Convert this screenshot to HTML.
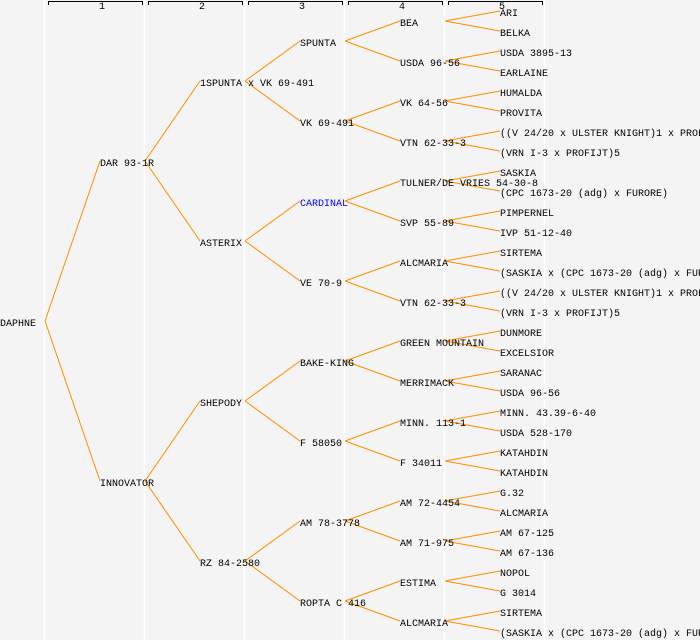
<!DOCTYPE html>
<html><head><meta charset="utf-8"><style>
html,body{margin:0;padding:0;background:#f4f4f4;}
svg{display:block;}
text{font-family:"Liberation Mono","DejaVu Sans Mono",monospace;font-size:10px;fill:#000;}
</style></head><body>
<svg width="700" height="640" viewBox="0 0 700 640" xmlns="http://www.w3.org/2000/svg">
<rect width="700" height="640" fill="#f4f4f4"/>
<g stroke="#fff" stroke-width="1.5">
<line x1="44.5" y1="0" x2="44.5" y2="640"/><line x1="144.5" y1="0" x2="144.5" y2="640"/>
<line x1="244.5" y1="0" x2="244.5" y2="640"/><line x1="344.5" y1="0" x2="344.5" y2="640"/>
<line x1="444.5" y1="0" x2="444.5" y2="640"/><line x1="544.5" y1="0" x2="544.5" y2="640"/>
</g>
<g stroke="#000" stroke-width="1" fill="none">
<path d="M48.5 5V1.5H142.5V5M148.5 5V1.5H242.5V5M248.5 5V1.5H342.5V5M348.5 5V1.5H442.5V5M448.5 5V1.5H542.5V5"/>
</g>
<g style="font-size:8px" text-anchor="middle">
<text x="102" y="9">1</text><text x="202" y="9">2</text><text x="302" y="9">3</text><text x="402" y="9">4</text><text x="502" y="9">5</text>
</g>
<path fill="none" stroke="#ff8c00" stroke-width="1" d="
M45 321L100 161M45 321L100 481
M145 161L200 81M145 161L200 241M145 481L200 401M145 481L200 561
M245 81L300 41M245 81L300 121M245 241L300 201M245 241L300 281M245 401L300 361M245 401L300 441M245 561L300 521M245 561L300 601
M345 41L400 21M345 41L400 61M345 121L400 101M345 121L400 141M345 201L400 181M345 201L400 221M345 281L400 261M345 281L400 301
M345 361L400 341M345 361L400 381M345 441L400 421M345 441L400 461M345 521L400 501M345 521L400 541M345 601L400 581M345 601L400 621
M445 21L500 11M445 21L500 31M445 61L500 51M445 61L500 71M445 101L500 91M445 101L500 111M445 141L500 131M445 141L500 151
M445 181L500 171M445 181L500 191M445 221L500 211M445 221L500 231M445 261L500 251M445 261L500 271M445 301L500 291M445 301L500 311
M445 341L500 331M445 341L500 351M445 381L500 371M445 381L500 391M445 421L500 411M445 421L500 431M445 461L500 451M445 461L500 471
M445 501L500 491M445 501L500 511M445 541L500 531M445 541L500 551M445 581L500 571M445 581L500 591M445 621L500 611M445 621L500 631"/>
<text x="0" y="326">DAPHNE</text>
<text x="100" y="166">DAR 93-1R</text>
<text x="100" y="486">INNOVATOR</text>
<text x="200" y="86">1SPUNTA x VK 69-491</text>
<text x="200" y="246">ASTERIX</text>
<text x="200" y="406">SHEPODY</text>
<text x="200" y="566">RZ 84-2580</text>
<text x="300" y="46">SPUNTA</text>
<text x="300" y="126">VK 69-491</text>
<text x="300" y="206" style="fill:#0000ff">CARDINAL</text>
<text x="300" y="286">VE 70-9</text>
<text x="300" y="366">BAKE-KING</text>
<text x="300" y="446">F 58050</text>
<text x="300" y="526">AM 78-3778</text>
<text x="300" y="606">ROPTA C 416</text>
<text x="400" y="26">BEA</text>
<text x="400" y="66">USDA 96-56</text>
<text x="400" y="106">VK 64-56</text>
<text x="400" y="146">VTN 62-33-3</text>
<text x="400" y="186">TULNER/DE VRIES 54-30-8</text>
<text x="400" y="226">SVP 55-89</text>
<text x="400" y="266">ALCMARIA</text>
<text x="400" y="306">VTN 62-33-3</text>
<text x="400" y="346">GREEN MOUNTAIN</text>
<text x="400" y="386">MERRIMACK</text>
<text x="400" y="426">MINN. 113-1</text>
<text x="400" y="466">F 34011</text>
<text x="400" y="506">AM 72-4454</text>
<text x="400" y="546">AM 71-975</text>
<text x="400" y="586">ESTIMA</text>
<text x="400" y="626">ALCMARIA</text>
<text x="500" y="16">ARI</text>
<text x="500" y="36">BELKA</text>
<text x="500" y="56">USDA 3895-13</text>
<text x="500" y="76">EARLAINE</text>
<text x="500" y="96">HUMALDA</text>
<text x="500" y="116">PROVITA</text>
<text x="500" y="136">((V 24/20 x ULSTER KNIGHT)1 x PROFIJT</text>
<text x="500" y="156">(VRN I-3 x PROFIJT)5</text>
<text x="500" y="176">SASKIA</text>
<text x="500" y="196">(CPC 1673-20 (adg) x FURORE)</text>
<text x="500" y="216">PIMPERNEL</text>
<text x="500" y="236">IVP 51-12-40</text>
<text x="500" y="256">SIRTEMA</text>
<text x="500" y="276">(SASKIA x (CPC 1673-20 (adg) x FURORE))</text>
<text x="500" y="296">((V 24/20 x ULSTER KNIGHT)1 x PROFIJT</text>
<text x="500" y="316">(VRN I-3 x PROFIJT)5</text>
<text x="500" y="336">DUNMORE</text>
<text x="500" y="356">EXCELSIOR</text>
<text x="500" y="376">SARANAC</text>
<text x="500" y="396">USDA 96-56</text>
<text x="500" y="416">MINN. 43.39-6-40</text>
<text x="500" y="436">USDA 528-170</text>
<text x="500" y="456">KATAHDIN</text>
<text x="500" y="476">KATAHDIN</text>
<text x="500" y="496">G.32</text>
<text x="500" y="516">ALCMARIA</text>
<text x="500" y="536">AM 67-125</text>
<text x="500" y="556">AM 67-136</text>
<text x="500" y="576">NOPOL</text>
<text x="500" y="596">G 3014</text>
<text x="500" y="616">SIRTEMA</text>
<text x="500" y="636">(SASKIA x (CPC 1673-20 (adg) x FURORE))</text>
</svg>
</body></html>
